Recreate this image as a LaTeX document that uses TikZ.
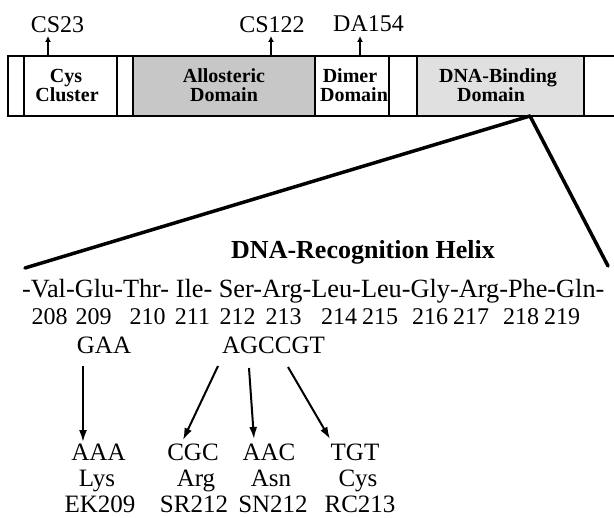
\documentclass[tikz,border=0pt]{standalone}
\usepackage{fontspec}
\setmainfont{Liberation Serif}
\usetikzlibrary{arrows.meta}
\begin{document}
\begin{tikzpicture}[x=1bp,y=-1bp,
  lbl/.style={font=\fontsize{24bp}{28bp}\selectfont, anchor=base, inner sep=0pt},
  dom/.style={font=\bfseries\fontsize{20bp}{24bp}\selectfont, anchor=base, inner sep=0pt},
  ttl/.style={font=\bfseries\fontsize{26bp}{30bp}\selectfont, anchor=base, inner sep=0pt},
  seq/.style={font=\fontsize{26.3bp}{30bp}\selectfont, anchor=base, inner sep=0pt},
  num/.style={font=\fontsize{24bp}{28bp}\selectfont, anchor=base, inner sep=0pt},
  cod/.style={font=\fontsize{25bp}{30bp}\selectfont, anchor=base, inner sep=0pt},
  seg/.style={line width=1.6bp},
  tick/.style={line width=1.6bp, -{Latex[length=6bp,width=6bp]}},
  mut/.style={line width=2bp, -{Latex[length=12bp,width=8bp]}},
  zoomline/.style={line width=3.5bp, line cap=round}]
\useasboundingbox (0,0) rectangle (614,518);
% shaded domains
\fill[black!22] (133,56) rectangle (315,116);
\fill[black!12] (417,56) rectangle (584,116);
% bar outline
\draw[seg] (616,56) -- (8,56) -- (8,116) -- (616,116);
\foreach \x in {24,117,133,315,389,417,584} \draw[seg] (\x,56) -- (\x,116);
% domain labels
\node[dom] (cys1) at (66,83) {Cys};
\node[dom] (cys2) at (67,102) {Cluster};
\node[dom] (all1) at (224,83) {Allosteric};
\node[dom] (all2) at (224,102) {Domain};
\node[dom] (dim1) at (350,83) {Dimer};
\node[dom] (dim2) at (354,102) {Domain};
\node[dom] (dna1) at (498,83) {DNA-Binding};
\node[dom] (dna2) at (491,102) {Domain};
% site markers
\coordinate (b1) at (48,56);  \coordinate (e1) at (48,36);
\coordinate (b2) at (271,56); \coordinate (e2) at (271,36);
\coordinate (b3) at (360,56); \coordinate (e3) at (360,36);
\draw[tick] (b1) -- (e1);
\draw[tick] (b2) -- (e2);
\draw[tick] (b3) -- (e3);
\node[lbl] (cs23) at (57.5,33) {CS23};
\node[lbl] (cs122) at (272,33) {CS122};
\node[lbl] (da154) at (368.5,32) {DA154};
% expansion lines
\coordinate (apex) at (530,116);
\coordinate (zl) at (25,268);
\coordinate (zr) at (608,266);
\draw[zoomline] (apex) -- (zl);
\draw[zoomline] (apex) -- (zr);
% helix
\node[ttl] (helix) at (363,258) {DNA-Recognition Helix};
\node[seq, anchor=base west] (seq) at (22,297) {-Val-Glu-Thr- Ile- Ser-Arg-Leu-Leu-Gly-Arg-Phe-Gln-};
\foreach \n/\x in {208/49.5,209/93.5,210/147.5,211/192.5,212/237.5,213/283.5,214/339,215/380,216/430,217/471,218/521,219/562}
  \node[num] (n\n) at (\x,324) {\n};
% codons
\node[cod] (gaa) at (104,353) {GAA};
\node[cod] (agccgt) at (273.5,353) {AGCCGT};
\node[cod] (aaa) at (98.5,460) {AAA};
\node[cod] (cgc) at (193,460) {CGC};
\node[cod] (aac) at (269,460) {AAC};
\node[cod] (tgt) at (355,460) {TGT};
\node[cod] (lys) at (97,486) {Lys};
\node[cod] (arg) at (196,486) {Arg};
\node[cod] (asn) at (271,486) {Asn};
\node[cod] (cysr) at (358,486) {Cys};
\node[cod] (ek) at (100,512) {EK209};
\node[cod] (sr) at (194,512) {SR212};
\node[cod] (sn) at (273,512) {SN212};
\node[cod] (rc) at (360,512) {RC213};
% mutation arrows
\coordinate (m0s) at (83,366);  \coordinate (m0e) at (83,442);
\coordinate (m1s) at (218,366); \coordinate (m1e) at (183,440);
\coordinate (m2s) at (249,368); \coordinate (m2e) at (254,439);
\coordinate (m3s) at (288,367); \coordinate (m3e) at (330,439);
\draw[mut] (m0s) -- (m0e);
\draw[mut] (m1s) -- (m1e);
\draw[mut] (m2s) -- (m2e);
\draw[mut] (m3s) -- (m3e);
\end{tikzpicture}
\end{document}
